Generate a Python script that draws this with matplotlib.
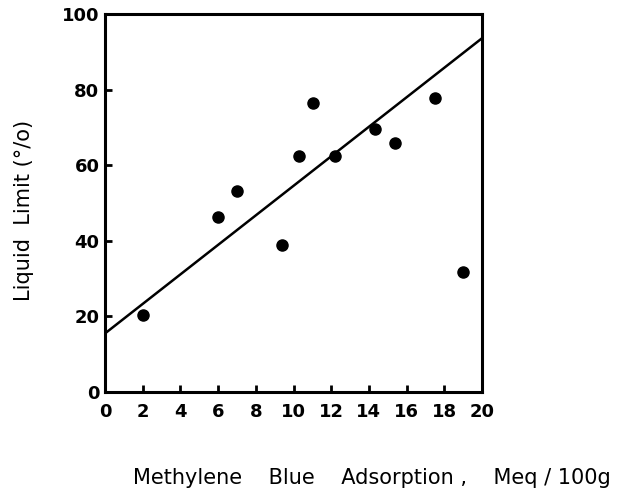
import numpy as np
import matplotlib
matplotlib.use('Agg')
import matplotlib.pyplot as plt

# methylene blue adsorption (meq/100g) vs liquid limit (%)
mb = [2.0, 6.0, 7.0, 9.4, 10.3, 11.05, 12.2, 14.3, 15.4, 17.5, 19.0]
ll = [20.4, 46.4, 53.3, 38.9, 62.4, 76.5, 62.4, 69.5, 66.0, 77.9, 31.7]

# trend line as drawn (intercept, end value at x=20)
fit_x = [0, 20]
fit_y = [15.5, 93.6]

xticks = list(range(0, 21, 2))
yticks = list(range(0, 101, 20))

plt.rcParams['font.family'] = ['DejaVu Sans']

fig = plt.figure(figsize=(6.33, 4.99), dpi=100)
ax = fig.add_axes([0.1659, 0.2144, 0.5956, 0.7575])

ax.plot(fit_x, fit_y, color='black', lw=1.8, solid_capstyle='butt')
ax.plot(mb, ll, 'o', color='black', ms=8)

ax.set_xlim(0, 20)
ax.set_ylim(0, 100)
ax.set_xticks(xticks)
ax.set_yticks(yticks)
ax.tick_params(direction='in', length=5, width=2, labelsize=13, pad=4)
ax.tick_params(axis='x', pad=8)
for lab in ax.get_xticklabels() + ax.get_yticklabels():
  lab.set_fontweight('bold')
for s in ax.spines.values():
  s.set_linewidth(2.2)

fig.text(0.588, 0.042, 'Methylene    Blue    Adsorption ,    Meq / 100g',
         ha='center', va='center', fontsize=15, fontweight='medium')
fig.text(0.038, 0.579, 'Liquid  Limit (°/o)', rotation=90,
         ha='center', va='center', fontsize=15, fontweight='medium')

fig.savefig('out.png', dpi=100)
